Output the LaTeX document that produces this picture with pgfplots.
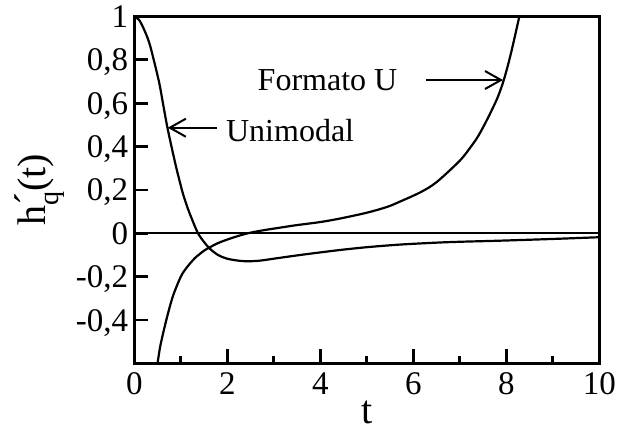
\documentclass[border=0pt]{standalone}
\usepackage{fontspec}
\setmainfont{Liberation Serif}
\usepackage{pgfplots}
\usepackage{pgfplotstable}
\pgfplotsset{compat=1.18}
\usetikzlibrary{arrows.meta}

% Unimodal hazard derivative
\pgfplotstableread{
t y
0.00 1.000
0.10 0.985
0.20 0.945
0.32 0.880
0.43 0.790
0.54 0.690
0.62 0.595
0.71 0.490
0.80 0.400
0.90 0.305
0.97 0.245
1.05 0.180
1.15 0.115
1.25 0.060
1.37 0.000
1.50 -0.040
1.62 -0.070
1.80 -0.100
1.98 -0.116
2.20 -0.125
2.41 -0.129
2.70 -0.126
3.13 -0.113
3.60 -0.099
4.00 -0.088
4.42 -0.077
5.00 -0.064
5.71 -0.052
6.50 -0.043
7.00 -0.039
7.86 -0.034
9.00 -0.026
10.00 -0.018
}\unimodal

% U-shaped (bathtub) hazard derivative
\pgfplotstableread{
t y
0.50 -0.600
0.55 -0.530
0.61 -0.470
0.70 -0.390
0.83 -0.290
1.00 -0.200
1.12 -0.160
1.30 -0.115
1.50 -0.080
1.62 -0.065
1.80 -0.045
2.05 -0.025
2.30 -0.008
2.50 0.003
2.80 0.015
3.13 0.026
3.50 0.038
4.00 0.052
4.42 0.068
5.00 0.095
5.44 0.122
5.71 0.146
6.16 0.190
6.50 0.236
7.00 0.335
7.24 0.400
7.40 0.450
7.60 0.530
7.81 0.625
7.95 0.710
8.10 0.830
8.28 1.000
}\bathtub

\newcommand{\labfont}{\fontsize{40}{40}\selectfont}
\newcommand{\annfont}{\fontsize{32}{32}\selectfont}

\begin{document}
\begin{tikzpicture}
\useasboundingbox (-134.3pt,-65.6pt) rectangle (482.7pt,363.4pt);
\begin{axis}[
  at={(0,0)}, anchor=south west,
  scale only axis,
  width=465pt, height=346.9pt,
  xmin=0, xmax=10, ymin=-0.6, ymax=1,
  axis line style={line width=2.8pt},
  xtick={0,2,4,6,8,10},
  minor xtick={1,3,5,7,9},
  xticklabels={0,2,4,6,8,10},
  ytick={-0.4,-0.2,0,0.2,0.4,0.6,0.8,1},
  yticklabels={{-0,4},{-0,2},0,{0,2},{0,4},{0,6},{0,8},1},
  tick pos=left,
  major tick length=14pt,
  minor tick length=7pt,
  tick style={line width=2.8pt, black},
  tick label style={font=\fontsize{33}{33}\selectfont},
  xticklabel style={anchor=north, inner sep=0pt, yshift=-9pt},
  yticklabel style={anchor=base east, inner sep=0pt, xshift=-6pt, yshift=-11pt},
  xlabel={t},
  ylabel={h\makebox[0pt][l]{\raisebox{0.08em}{´}}\raisebox{-0.32em}{\fontsize{28}{28}\selectfont q}(t)},
  label style={font=\labfont},
  xlabel style={at={(axis description cs:0.5,-0.174)}, anchor=base,
                inner sep=0pt, text depth=0pt},
  ylabel style={at={(axis description cs:-0.191,0.5)}, anchor=base},
]
\addplot[black, line width=2pt] coordinates {(0,0) (10,0)};
\addplot[black, line width=2.2pt, smooth] table[x=t, y=y] {\unimodal};
\addplot[black, line width=2.2pt, smooth] table[x=t, y=y] {\bathtub};

\draw[line width=2pt, -{Straight Barb[length=16pt, width=18pt, line width=2pt]}]
  (axis cs:1.78,0.487) -- (axis cs:0.72,0.487);
\node[anchor=base west, inner sep=0pt, font=\annfont] at (axis cs:1.97,0.4225) {Unimodal};

\draw[line width=2pt, -{Straight Barb[length=16pt, width=18pt, line width=2pt]}]
  (axis cs:6.27,0.707) -- (axis cs:7.93,0.707);
\node[anchor=base west, inner sep=0pt, font=\annfont] at (axis cs:2.65,0.658) {Formato U};
\end{axis}
\end{tikzpicture}
\end{document}
